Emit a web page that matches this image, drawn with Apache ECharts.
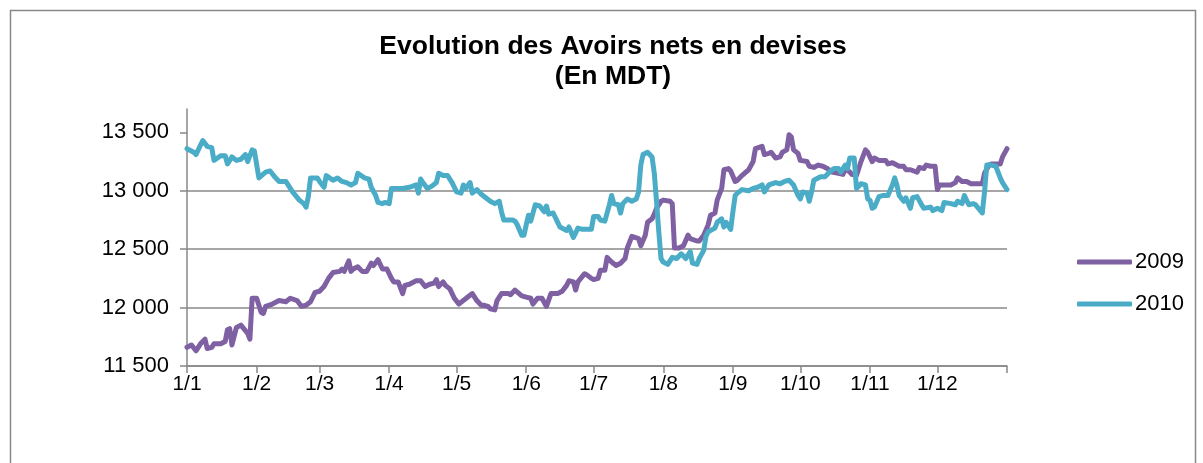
<!DOCTYPE html>
<html>
<head>
<meta charset="utf-8">
<script src="https://cdn.jsdelivr.net/npm/echarts@6/dist/echarts.min.js"></script>
<style>
  html, body { margin: 0; padding: 0; background: #fff; }
  #chart { width: 1203px; height: 463px; }
</style>
</head>
<body>
<div id="chart"></div>
<script>
// jours depuis le 1er janvier (0 = 1/1, 365 = fin décembre)
var monthStarts = [0, 31, 59, 90, 120, 151, 181, 212, 243, 273, 304, 334];
var monthLabels = ['1/1', '1/2', '1/3', '1/4', '1/5', '1/6', '1/7', '1/8', '1/9', '1/10', '1/11', '1/12'];
var tickDays = monthStarts.concat([365]);
var yTicks = [11500, 12000, 12500, 13000, 13500];

var days2009 = [0,2,4,6,8,9,11,12,15,17,18,19,20,22,24,27,28,29,31,33,34,35,38,41,44,46,49,51,53,55,57,59,61,63,65,68,69,70,72,73,74,76,78,80,82,83,85,87,89,91,92,94,96,97,99,102,104,106,108,110,111,112,114,115,117,119,121,123,125,127,129,131,132,134,135,137,138,140,143,144,146,149,151,153,154,156,158,160,162,165,167,169,170,172,173,174,177,178,180,181,183,184,186,187,189,191,193,195,196,198,201,202,204,205,207,208,209,211,212,215,216,217,219,221,223,224,227,228,230,232,233,235,236,238,239,241,242,244,245,247,250,252,253,256,257,259,260,262,264,265,267,268,269,270,272,273,276,277,279,281,283,285,287,290,292,293,295,296,298,300,302,303,305,306,308,311,312,314,317,319,320,322,325,326,328,329,331,333,334,335,337,340,342,343,345,347,349,351,354,355,357,358,360,362,363,365];
var avoirs2009 = [11660,11680,11630,11690,11730,11650,11660,11690,11690,11710,11810,11820,11680,11830,11850,11780,11730,12080,12080,11960,11950,12010,12030,12060,12050,12080,12060,12010,12020,12050,12130,12140,12180,12250,12300,12310,12330,12310,12400,12310,12330,12350,12310,12310,12380,12360,12410,12330,12330,12250,12220,12220,12120,12190,12200,12230,12230,12180,12200,12210,12240,12180,12220,12190,12160,12080,12030,12060,12090,12120,12060,12020,12020,12010,11990,11980,12060,12120,12120,12110,12150,12100,12090,12080,12030,12080,12080,12010,12120,12120,12140,12190,12230,12220,12150,12220,12290,12280,12250,12240,12250,12320,12320,12430,12390,12360,12380,12420,12510,12610,12590,12530,12620,12730,12760,12800,12850,12910,12920,12910,12890,12510,12510,12530,12620,12590,12570,12570,12620,12710,12790,12810,12920,13020,13180,13190,13170,13080,13090,13130,13180,13250,13360,13380,13310,13320,13330,13280,13290,13330,13350,13480,13460,13350,13320,13260,13250,13210,13200,13220,13210,13190,13160,13150,13140,13190,13160,13140,13130,13250,13350,13330,13250,13280,13260,13260,13230,13240,13210,13210,13180,13180,13160,13200,13190,13220,13210,13210,13010,13050,13050,13050,13070,13110,13080,13080,13060,13060,13060,13150,13220,13230,13230,13230,13290,13360];

var days2010 = [0,3,4,7,9,11,12,15,17,18,20,22,24,26,27,29,30,32,35,37,39,41,44,47,50,52,53,54,55,58,59,61,62,65,67,69,71,73,75,76,79,81,82,84,85,87,88,90,91,94,96,99,102,103,104,105,107,109,111,112,114,116,118,120,122,123,124,126,127,129,131,133,135,137,139,140,141,143,145,146,147,149,150,151,152,153,155,157,159,160,161,163,165,166,169,170,172,173,174,176,178,180,181,183,184,186,188,189,190,192,193,194,196,198,200,201,202,203,205,207,208,209,210,211,212,214,216,218,220,222,224,225,227,228,230,231,232,235,236,238,239,240,242,243,244,245,247,250,252,254,256,257,259,262,264,266,268,270,272,273,274,276,277,278,279,282,284,286,288,290,291,293,294,295,297,298,300,302,303,304,305,306,308,310,312,314,315,316,317,319,320,322,323,325,327,328,331,332,334,336,337,340,342,343,345,346,348,350,351,354,355,356,358,360,362,363,365];
var avoirs2010 = [13360,13330,13310,13430,13380,13370,13260,13300,13300,13230,13290,13260,13270,13310,13250,13350,13340,13110,13160,13170,13120,13080,13080,12990,12920,12890,12860,12950,13110,13110,13080,13030,13130,13090,13110,13080,13070,13050,13070,13150,13110,13100,13030,12960,12900,12890,12900,12890,13020,13020,13020,13030,13050,12980,13100,13070,13020,13040,13070,13150,13130,13130,13070,12990,12980,13050,13020,13070,12980,13010,12970,12940,12910,12890,12910,12820,12750,12750,12750,12740,12710,12620,12620,12710,12790,12740,12880,12870,12820,12870,12800,12810,12730,12690,12660,12690,12600,12640,12680,12670,12670,12670,12780,12780,12750,12740,12880,12960,12890,12880,12810,12890,12930,12910,12930,12990,13220,13310,13330,13290,13150,12910,12650,12420,12390,12370,12430,12420,12460,12420,12480,12380,12370,12420,12490,12610,12650,12680,12730,12760,12690,12730,12670,12820,12960,12980,13010,13000,13020,13030,13050,12990,13050,13070,13060,13080,13090,13050,12960,12930,12990,12980,12910,12990,13090,13120,13120,13160,13190,13190,13160,13220,13190,13280,13280,13020,13060,13050,12930,12920,12850,12860,12950,12960,12960,13050,13110,13050,12960,12910,12940,12850,12940,12950,12880,12850,12860,12830,12850,12830,12900,12890,12880,12910,12890,12960,12880,12890,12880,12810,12990,13220,13220,13210,13110,13070,13010];

function zip(xs, ys) {
    return xs.map(function (x, i) { return [x, ys[i]]; });
}

var font = 'Liberation Sans, Arial, sans-serif';
var grey = '#888888';

var myChart = echarts.init(document.getElementById('chart'));
myChart.setOption({
    animation: false,
    backgroundColor: '#fff',
    textStyle: { fontFamily: font, color: '#000' },
    graphic: [{
        type: 'rect',
        shape: { x: 10.5, y: 10.5, width: 1185, height: 480 },
        style: { fill: 'none', stroke: grey, lineWidth: 1.5 },
        silent: true
    }],
    title: {
        text: 'Evolution des Avoirs nets en devises\n(En MDT)',
        left: 608,
        top: 27,
        textAlign: 'center',
        textStyle: { fontFamily: font, fontWeight: 'bold', fontSize: 26.5, lineHeight: 30, color: '#000' }
    },
    legend: {
        data: ['2009', '2010'],
        orient: 'vertical',
        left: 1077,
        top: 251,
        padding: 0,
        itemWidth: 55,
        itemHeight: 5,
        itemGap: 20,
        icon: 'roundRect',
        textStyle: { fontFamily: font, fontSize: 22, lineHeight: 21, color: '#000', padding: [0, 0, 0, -2] }
    },
    grid: { left: 187, right: 196, top: 109, bottom: 97 },
    xAxis: {
        type: 'value',
        min: 0,
        max: 365,
        axisLine: { lineStyle: { color: grey, width: 1.5 } },
        axisTick: { customValues: tickDays, length: 7, lineStyle: { color: grey, width: 1.5 } },
        axisLabel: {
            customValues: monthStarts,
            margin: 8,
            fontSize: 21,
            fontFamily: font,
            color: '#000',
            formatter: function (v) { return monthLabels[monthStarts.indexOf(v)] || ''; }
        },
        splitLine: { show: false }
    },
    yAxis: {
        type: 'value',
        min: 11500,
        max: 13700,
        interval: 500,
        axisLine: { show: true, lineStyle: { color: grey, width: 1.5 } },
        axisTick: { show: true, customValues: yTicks, length: 7, lineStyle: { color: grey, width: 1.5 } },
        axisLabel: {
            customValues: yTicks,
            margin: 18,
            fontSize: 22,
            fontFamily: font,
            color: '#000',
            formatter: function (v) { return String(v).replace(/\B(?=(\d{3})+$)/, ' '); }
        },
        splitLine: { show: true, showMaxLine: false, lineStyle: { color: grey, width: 1.5 } }
    },
    series: [{
        name: '2009',
        type: 'line',
        data: zip(days2009, avoirs2009),
        symbol: 'none',
        color: '#7f60a2',
        lineStyle: { width: 5, cap: 'round', join: 'round' }
    }, {
        name: '2010',
        type: 'line',
        data: zip(days2010, avoirs2010),
        symbol: 'none',
        color: '#4aacc6',
        lineStyle: { width: 5, cap: 'round', join: 'round' }
    }]
});
</script>
</body>
</html>
